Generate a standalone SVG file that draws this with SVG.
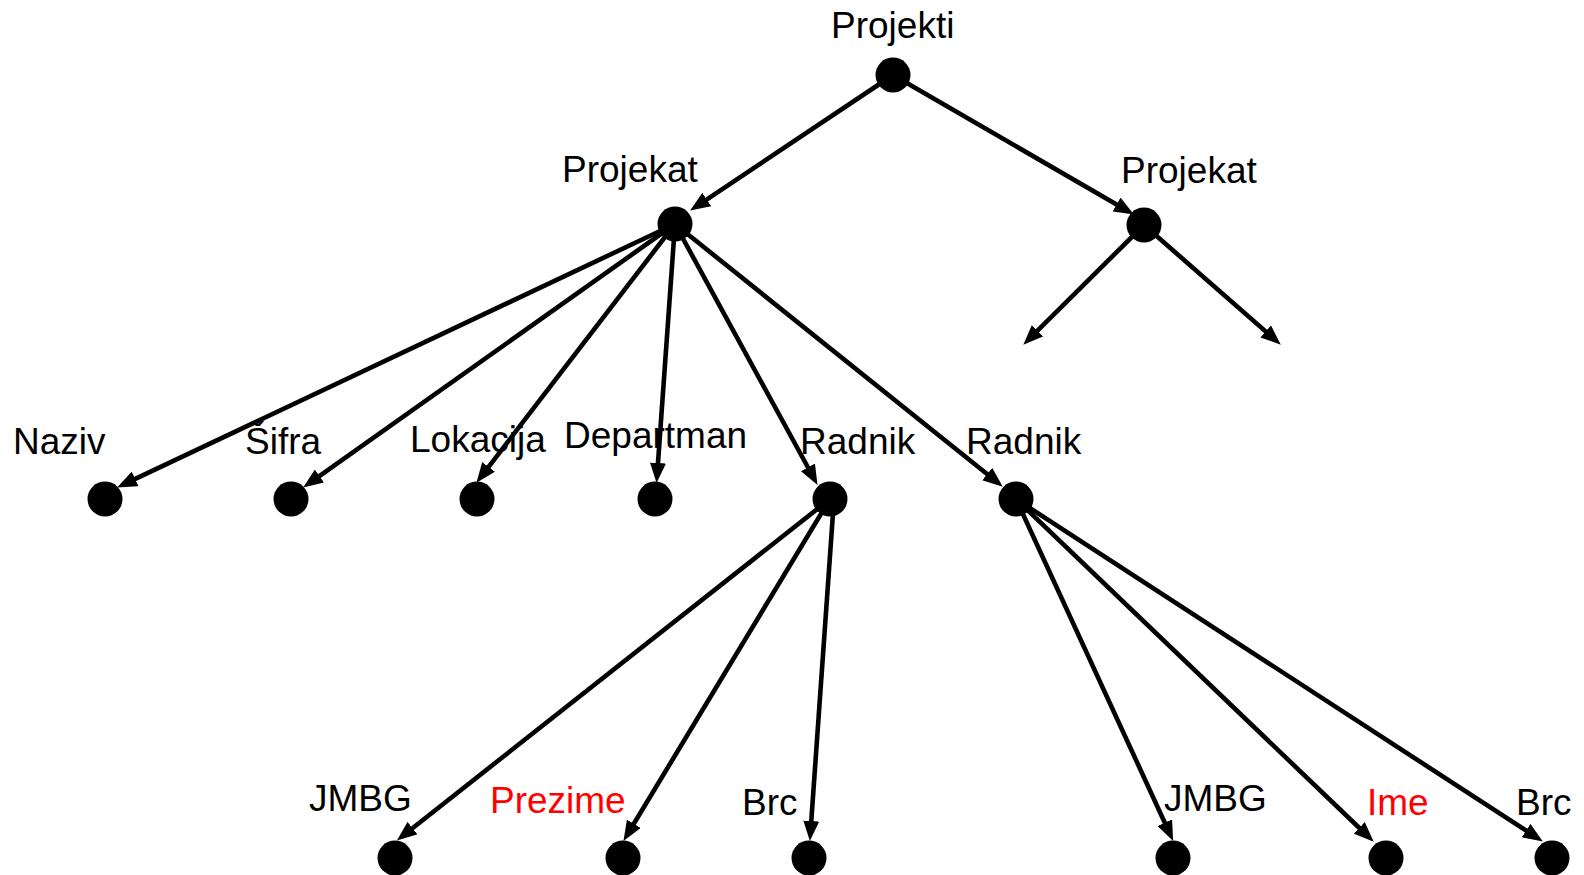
<svg xmlns="http://www.w3.org/2000/svg" width="1584" height="875" viewBox="0 0 1584 875">
<defs>
<marker id="ah" markerUnits="userSpaceOnUse" markerWidth="20" markerHeight="16" refX="11" refY="8" orient="auto">
<path d="M0,0 L20,8 L0,16 z" fill="#000"/>
</marker>
<style>
.e{stroke:#000;stroke-width:4.6;fill:none;marker-end:url(#ah)}
.n{fill:#000}
.t{font-family:"Liberation Sans",Arial,sans-serif;font-size:37px;fill:#000}
.r{fill:#ff0000}
</style>
</defs>
<rect width="1584" height="875" fill="#fff"/>
<g id="connectors">
<line class="e" x1="893" y1="75" x2="697.6" y2="205.6"/>
<line class="e" x1="893" y1="75" x2="1126.1" y2="210"/>
<line class="e" x1="1144" y1="225" x2="1029.7" y2="338.4"/>
<line class="e" x1="1144" y1="225" x2="1274" y2="338.7"/>
<line class="e" x1="675" y1="224" x2="125.2" y2="483.6"/>
<line class="e" x1="675" y1="224" x2="310.5" y2="482.4"/>
<line class="e" x1="675" y1="224" x2="481.9" y2="475.6"/>
<line class="e" x1="675" y1="224" x2="657.2" y2="474"/>
<line class="e" x1="675" y1="224" x2="813.2" y2="477"/>
<line class="e" x1="675" y1="224" x2="995.8" y2="481"/>
<line class="e" x1="830" y1="499" x2="403.9" y2="835"/>
<line class="e" x1="830" y1="499" x2="628.1" y2="833.2"/>
<line class="e" x1="834" y1="499" x2="810.5" y2="832"/>
<line class="e" x1="1016" y1="499" x2="1169.4" y2="832.7"/>
<line class="e" x1="1016" y1="499" x2="1367.2" y2="835.5"/>
<line class="e" x1="1016" y1="499" x2="1535.3" y2="836.6"/>
</g>
<g id="projekti"><circle class="n" cx="893" cy="75" r="17.5"/><text class="t" x="831" y="38">Projekti</text></g>
<g id="projekat1"><circle class="n" cx="675" cy="224" r="17.5"/><text class="t" x="562" y="182">Projekat</text></g>
<g id="projekat2"><circle class="n" cx="1144" cy="225" r="17.5"/><text class="t" x="1121" y="183">Projekat</text></g>
<g id="naziv"><circle class="n" cx="105" cy="499" r="17.5"/><text class="t" x="13" y="454">Naziv</text></g>
<g id="sifra"><circle class="n" cx="291" cy="499" r="17.5"/><text class="t" x="245" y="454">Šifra</text></g>
<g id="lokacija"><circle class="n" cx="477" cy="499" r="17.5"/><text class="t" x="410" y="452">Lokacija</text></g>
<g id="departman"><circle class="n" cx="655" cy="499" r="17.5"/><text class="t" x="564" y="448">Departman</text></g>
<g id="radnik1"><circle class="n" cx="830" cy="499" r="17.5"/><text class="t" x="800" y="454">Radnik</text></g>
<g id="radnik2"><circle class="n" cx="1016" cy="499" r="17.5"/><text class="t" x="966" y="454">Radnik</text></g>
<g id="jmbg1"><circle class="n" cx="395" cy="858" r="17.5"/><text class="t" x="309" y="811">JMBG</text></g>
<g id="prezime"><circle class="n" cx="623" cy="858" r="17.5"/><text class="t r" x="490" y="813">Prezime</text></g>
<g id="brc1"><circle class="n" cx="809" cy="858" r="17.5"/><text class="t" x="742" y="815">Brc</text></g>
<g id="jmbg2"><circle class="n" cx="1173" cy="858" r="17.5"/><text class="t" x="1164" y="811">JMBG</text></g>
<g id="ime"><circle class="n" cx="1386" cy="858" r="17.5"/><text class="t r" x="1367" y="815">Ime</text></g>
<g id="brc2"><circle class="n" cx="1552" cy="858" r="17.5"/><text class="t" x="1516" y="815">Brc</text></g>
</svg>
